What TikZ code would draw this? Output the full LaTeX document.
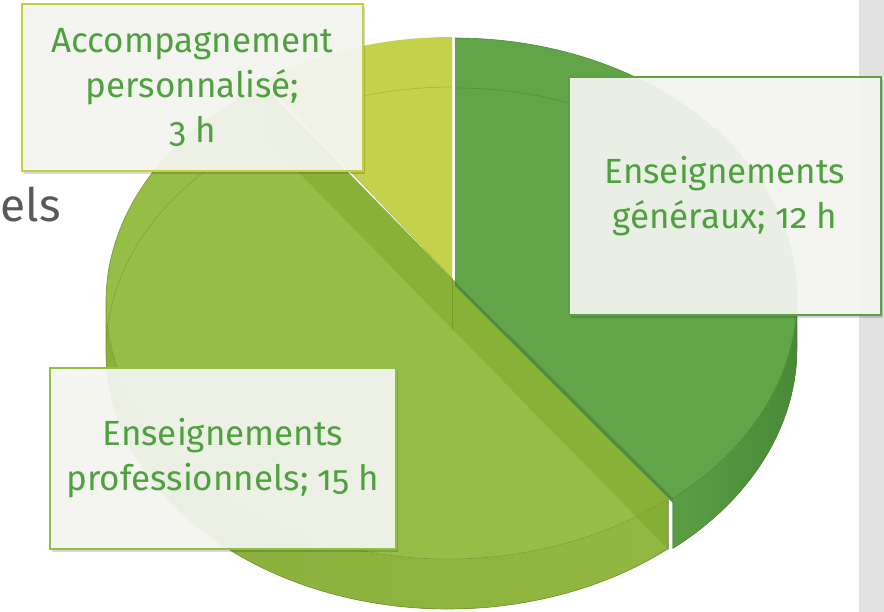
\documentclass[tikz,border=0pt]{standalone}
\usepackage{fontspec}
\setmainfont{Fira Sans}[Numbers=OldStyle]
\usetikzlibrary{shadows}
\definecolor{lighttop}{HTML}{96BD46}
\definecolor{lightwallL}{HTML}{89AF3C}
\definecolor{lightwallR}{HTML}{92B843}
\definecolor{bandcol}{HTML}{6E9E1A}
\definecolor{lightline}{HTML}{7A9E33}
\definecolor{yellowtop}{HTML}{C5D04B}
\definecolor{darktop}{HTML}{61A548}
\definecolor{darkwallL}{HTML}{5A9E44}
\definecolor{darkwallR}{HTML}{4A8A37}
\definecolor{darkedge}{HTML}{4D8E3B}
\definecolor{darkline}{HTML}{4E8C3C}
\definecolor{graybar}{HTML}{E1E1E1}
\definecolor{elsgray}{HTML}{595959}
\definecolor{boxfill}{HTML}{F7F8F4}
\definecolor{labelgreen}{HTML}{4FA03E}
\definecolor{accborder}{HTML}{C3D23C}
\definecolor{genborder}{HTML}{5BA145}
\definecolor{proborder}{HTML}{8FC043}
\begin{document}
\begin{tikzpicture}[x=1pt,y=-1pt,
  lbl/.style={rectangle, fill=boxfill, fill opacity=0.92, text opacity=1, draw=#1,
    line width=2.4pt, inner sep=0pt, align=center, text=labelgreen,
    font=\fontsize{35}{45}\selectfont,
    drop shadow={shadow xshift=2pt, shadow yshift=-3pt, opacity=0.15, fill=black}},
  faint/.style={draw=black, draw opacity=0.12, line width=0.7pt},
]
\useasboundingbox (0,0) rectangle (884,612);
\fill[white] (0,0) rectangle (884,612);
\fill[graybar] (859,0) rectangle (884,612);
\node[anchor=base west, text=elsgray, font=\fontsize{46}{54}\selectfont, inner sep=0pt] (els) at (0.5,222) {els};

% ---- light slice (professionnels) ----
\fill[left color=lightwallL, right color=lightwallR]
  plot[domain=49.9:180,samples=60] ({448+342*cos(\x)},{302+257*sin(\x)})
  -- plot[domain=180:49.9,samples=60] ({448+342*cos(\x)},{352+257*sin(\x)}) -- cycle;
\fill[lighttop] plot[domain=49.9:237.3,samples=90] ({448+342*cos(\x)},{302+257*sin(\x)}) -- cycle;
\begin{scope}
  \clip (668,499) -- (668,549)
    -- plot[domain=49.9:180,samples=60] ({448+342*cos(\x)},{352+257*sin(\x)})
    -- plot[domain=180:237.3,samples=40] ({448+342*cos(\x)},{302+257*sin(\x)}) -- cycle;
  \fill[bandcol, fill opacity=0.35] (263,86) -- (668,499) -- (668,549) -- (263,136) -- cycle;
\end{scope}
\draw[faint] plot[domain=180:237.3,samples=40] ({448+342*cos(\x)},{352+257*sin(\x)});
\draw[lightline, line width=0.6pt, draw opacity=0.6] plot[domain=49.9:180,samples=60] ({448+342*cos(\x)},{302+257*sin(\x)});
\draw[lightline, line width=0.7pt] (668,499) -- (668,549)
    -- plot[domain=49.9:180,samples=60] ({448+342*cos(\x)},{352+257*sin(\x)})
    -- plot[domain=180:237.3,samples=40] ({448+342*cos(\x)},{302+257*sin(\x)});

% ---- yellow slice (accompagnement) ----
\fill[yellowtop] (452,278) -- plot[domain=236.5:270,samples=30] ({452+342*cos(\x)},{295+258*sin(\x)}) -- cycle;
\draw[faint] plot[domain=236.5:270,samples=30] ({452+342*cos(\x)},{345+258*sin(\x)});
\draw[lightline, draw opacity=0.5, line width=0.6pt] (263,80) -- (452,278);

% ---- dark slice (generaux) ----
\fill[left color=darkwallL, right color=darkwallR]
  plot[domain=0:50.4,samples=40] ({455+342*cos(\x)},{298+260*sin(\x)})
  -- plot[domain=50.4:0,samples=40] ({455+342*cos(\x)},{348+260*sin(\x)}) -- cycle;
\fill[darktop] (455,281) -- plot[domain=-90:50.4,samples=90] ({455+342*cos(\x)},{298+260*sin(\x)}) -- cycle;
\fill[darkedge] (455,281) -- (673,498) -- (673,503) -- (455,286) -- cycle;
\draw[faint] plot[domain=-90:0,samples=50] ({455+342*cos(\x)},{348+260*sin(\x)});
\draw[faint] (452,278) -- (452,330);
\draw[darkline, line width=0.6pt] plot[domain=-90:50.4,samples=90] ({455+342*cos(\x)},{298+260*sin(\x)})
  -- (673,548) -- plot[domain=50.4:0,samples=40] ({455+342*cos(\x)},{348+260*sin(\x)});
\draw[white, line width=1.6pt] (453.5,36) -- (453.5,280);

% ---- labels ----
\node[lbl=accborder, minimum width=341pt, minimum height=167pt] (acc) at (192.5,87.5) {Accompagnement\\personnalisé;\\3 h};
\node[lbl=genborder, minimum width=312pt, minimum height=238pt] (gen) at (725,196) {Enseignements\\généraux; 12 h};
\node[lbl=proborder, minimum width=346pt, minimum height=181pt] (pro) at (223,458.5) {Enseignements\\professionnels; 15 h};
\end{tikzpicture}
\end{document}
